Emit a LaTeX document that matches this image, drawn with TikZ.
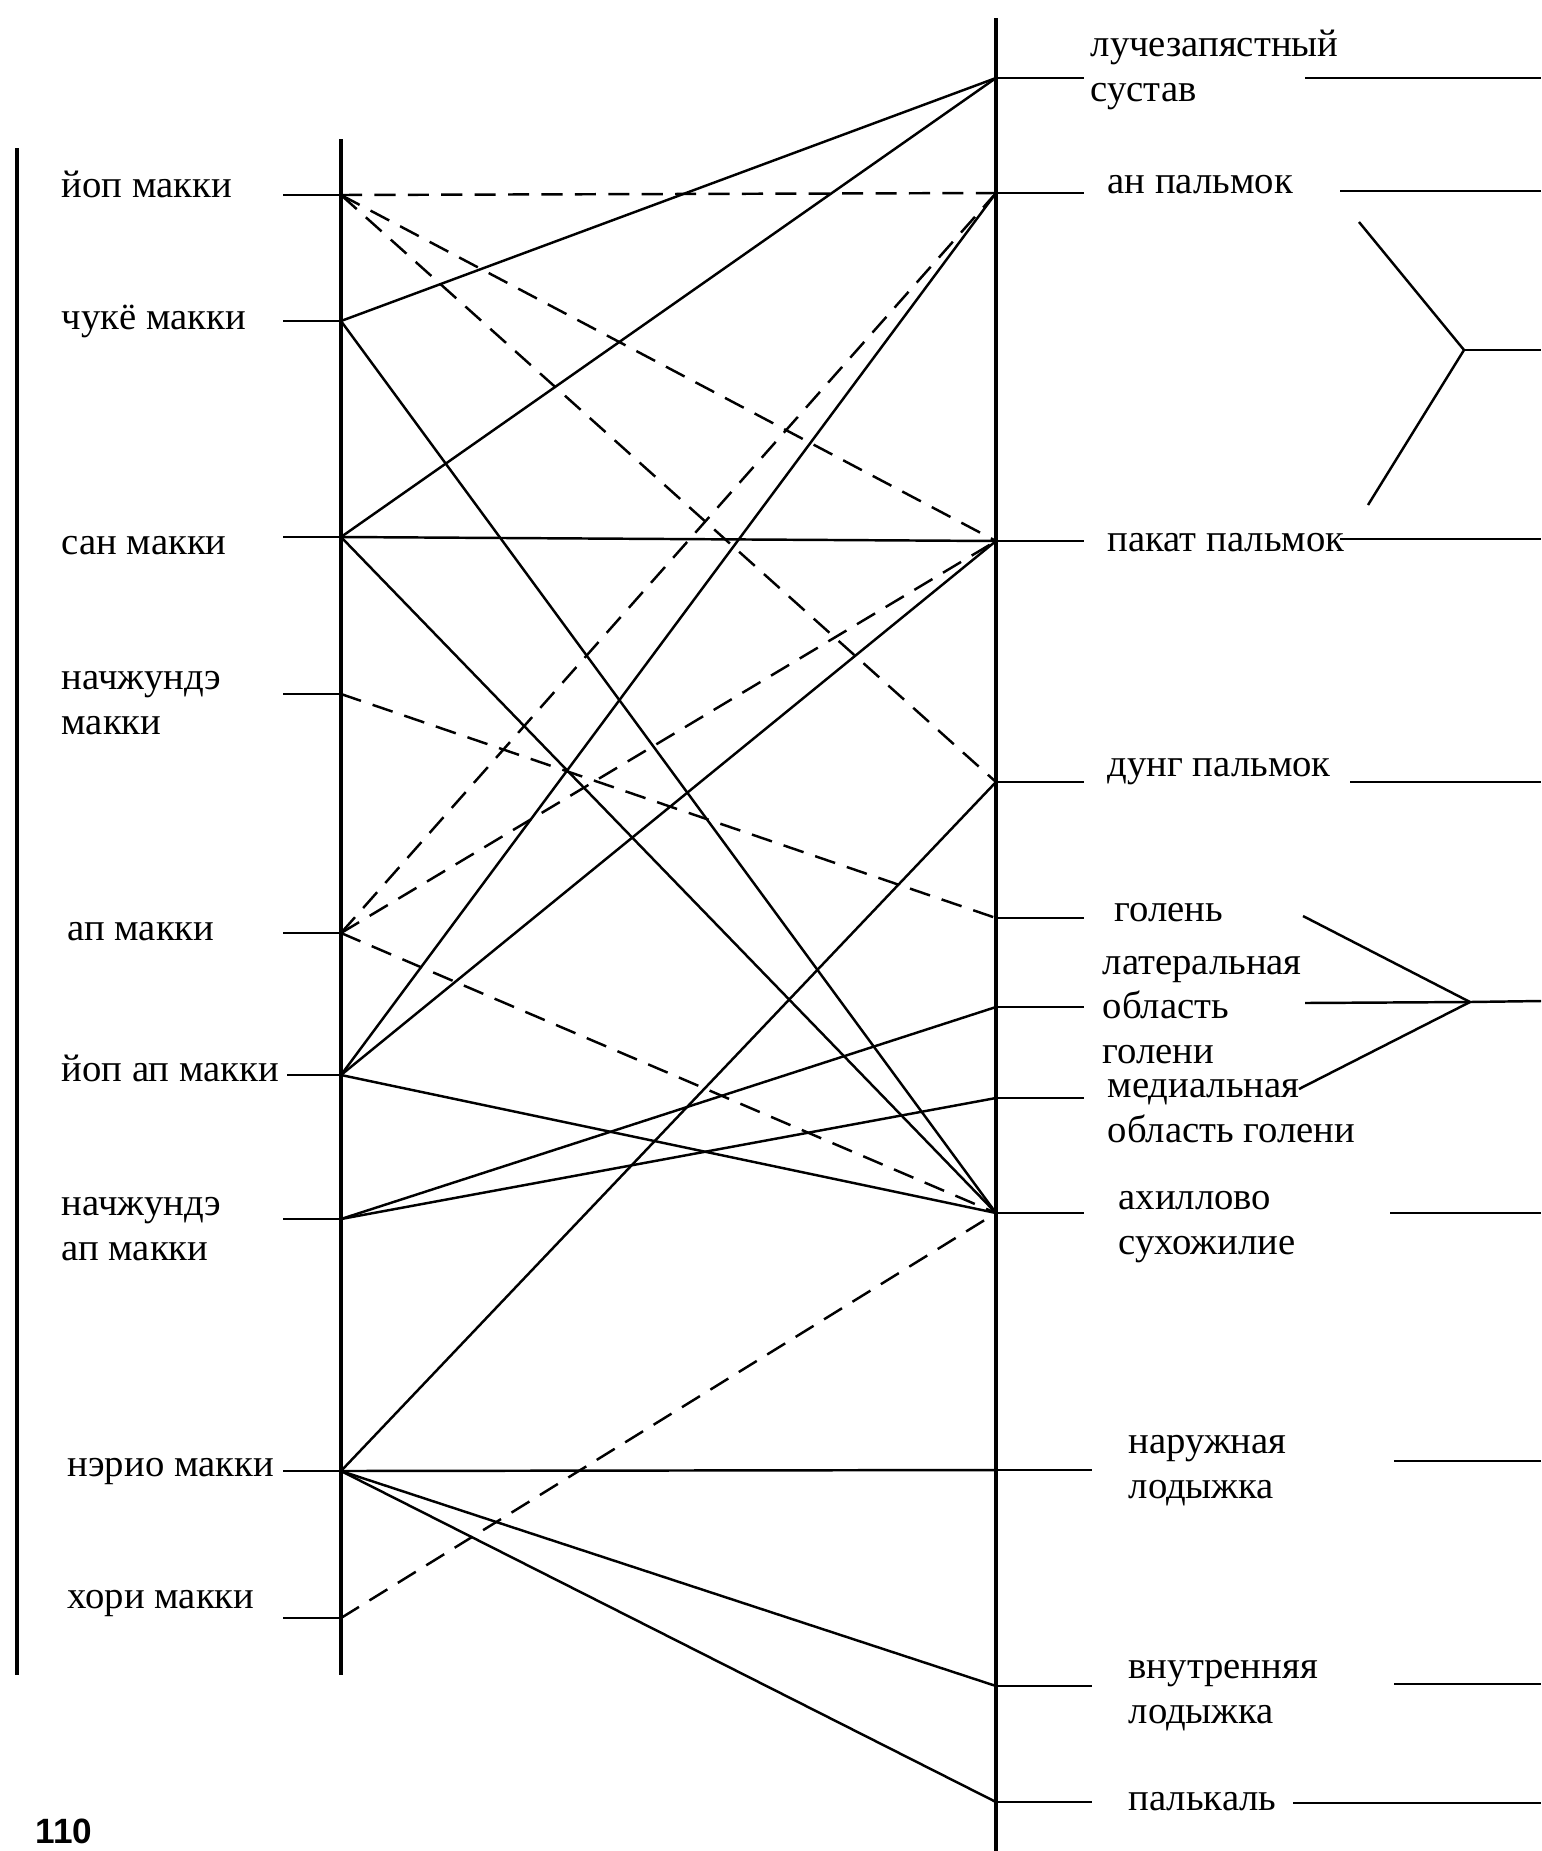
\documentclass[tikz,border=0pt]{standalone}
\usepackage{fontspec}
\setmainfont{Liberation Serif}
\newfontfamily\pagefont{Liberation Sans}
\usepackage{tikz}
\usetikzlibrary{positioning}

\begin{document}
\begin{tikzpicture}[x=.01cm,y=-.01cm,
  axis/.style={line width=1.2pt},
  link/.style={line width=.7pt},
  dlink/.style={line width=.7pt,dash pattern=on 6pt off 3.5pt},
  lab/.style={anchor=base west,inner sep=0pt,align=left,font=\fontsize{11}{12.6}\selectfont}]
\useasboundingbox (0,0) rectangle (1541,1851);
\draw[axis] (17,148)--(17,1675);
\draw[axis] (341,139)--(341,1675);
\draw[axis] (996,18)--(996,1851);
% left points
\foreach \n/\y/\s in {yop/195/283,chuke/321/283,san/537/283,nach/694/283,ap/933/283,yopap/1075/287,nachap/1219/283,nerio/1471/283,hori/1618/283}{
  \coordinate (L\n) at (341,\y); \coordinate (t\n) at (\s,\y);
  \draw[link] (t\n)--(L\n);}
% right points
\foreach \n/\y/\e in {luch/78/1084,an/193/1084,pakat/541/1084,dung/782/1084,golen/918/1084,lat/1007/1084,med/1098/1084,ahil/1213/1084,naruzh/1470/1092,vnutr/1686/1092,palk/1802/1092}{
  \coordinate (R\n) at (996,\y); \coordinate (e\n) at (\e,\y);
  \draw[link] (R\n)--(e\n);}
% left labels (base = last line)
\node[lab] (yop) at (61,197) {йоп макки};
\node[lab] (chuke) at (61,329) {чукё макки};
\node[lab] (san) at (61,554) {сан макки};
\node[lab] (nach) at (61,734) {начжундэ\\макки};
\node[lab] (ap) at (67,940) {ап макки};
\node[lab] (yopap) at (61,1081) {йоп ап макки};
\node[lab] (nachap) at (61,1260) {начжундэ\\ап макки};
\node[lab] (nerio) at (67,1476) {нэрио макки};
\node[lab] (hori) at (67,1608) {хори макки};
% right labels
\node[lab] (luch) at (1090,101) {лучезапястный\\сустав};
\node[lab] (an) at (1107,193) {ан пальмок};
\node[lab] (pakat) at (1107,551) {пакат пальмок};
\node[lab] (dung) at (1107,776) {дунг пальмок};
\node[lab] (golen) at (1114,921) {голень};
\node[lab] (lat) at (1102,1063) {латеральная\\область\\голени};
\node[lab] (med) at (1107,1142) {медиальная\\область голени};
\node[lab] (ahil) at (1118,1254) {ахиллово\\сухожилие};
\node[lab] (naruzh) at (1128,1498) {наружная\\лодыжка};
\node[lab] (vnutr) at (1128,1723) {внутренняя\\лодыжка};
\node[lab] (palk) at (1128,1810) {палькаль};
\node[anchor=base west,inner sep=0pt,font=\pagefont\bfseries\fontsize{10}{12}\selectfont] (pg) at (35,1843) {110};
% lines to the right edge
\foreach \n/\x/\y in {luch/1305/78,an/1340/191,pakat/1340/539,dung/1350/782,ahil/1390/1213,naruzh/1394/1461,vnutr/1394/1684,palk/1293/1803}{
  \coordinate (f\n) at (\x,\y); \coordinate (g\n) at (1541,\y);
  \draw[link] (f\n)--(g\n);}
% brackets
\coordinate (b1) at (1464,350); \coordinate (b2) at (1470,1002);
\draw[link] (1359,222)--(b1)--(1368,505); \draw[link] (b1)--(1541,350);
\draw[link] (1303,916)--(b2)--(1299,1089); \draw[link] (1305,1003)--(b2)--(1541,1001);
% connections
\foreach \a/\b in {chuke/luch,chuke/ahil,san/luch,san/pakat,san/ahil,yopap/an,yopap/pakat,yopap/ahil,nachap/lat,nachap/med,nerio/dung,nerio/naruzh,nerio/vnutr,nerio/palk}
  \draw[link] (L\a)--(R\b);
\foreach \a/\b in {yop/an,yop/pakat,yop/dung,nach/golen,ap/an,ap/pakat,ap/ahil,hori/ahil}
  \draw[dlink] (L\a)--(R\b);
\end{tikzpicture}
\end{document}
